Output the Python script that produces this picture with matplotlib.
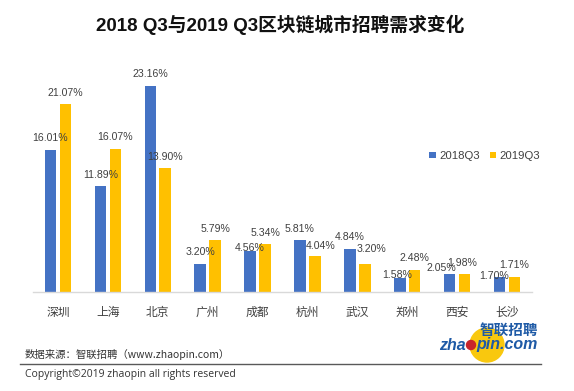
import numpy as np
import matplotlib
matplotlib.use("Agg")
import matplotlib.pyplot as plt
from matplotlib.patches import Ellipse
from matplotlib.lines import Line2D

# data
cities = ["深圳", "上海", "北京", "广州", "成都", "杭州", "武汉", "郑州", "西安", "长沙"]
q3_2018 = [16.01, 11.89, 23.16, 3.20, 4.56, 5.81, 4.84, 1.58, 2.05, 1.70]
q3_2019 = [21.07, 16.07, 13.90, 5.79, 5.34, 4.04, 3.20, 2.48, 1.98, 1.71]
series = ["2018Q3", "2019Q3"]

# label nudges (pixels) so they sit like the original
nudge_2018 = [(0, 0), (0, 0), (0, 0), (0, 0), (0, -8), (0, 0), (0, 0), (-3, -9), (-8, -6), (-5, -11)]
nudge_2019 = [(0, 0), (0, 0), (0, 0), (0, 0), (0, 0), (6, -1), (7, 3), (0, 0), (-2, 0), (0, 0)]

BLUE = "#4472C4"
GOLD = "#FFC000"
LATIN_CJK = ["Liberation Sans", "Noto Sans CJK SC", "DejaVu Sans"]
CJK = ["Noto Sans CJK SC", "DejaVu Sans"]

W, H = 574, 391
fig = plt.figure(figsize=(W / 100, H / 100), dpi=100)
ax = fig.add_axes([33 / W, 1 - 292 / H, 499 / W, 222.5 / H])

x = np.arange(len(cities))
bw = 0.23
off = 0.15
b1 = ax.bar(x - off, q3_2018, bw, color=BLUE, label=series[0])
b2 = ax.bar(x + off, q3_2019, bw, color=GOLD, label=series[1])

for bars, vals, nud in ((b1, q3_2018, nudge_2018), (b2, q3_2019, nudge_2019)):
    for r, v, (dx, dy) in zip(bars, vals, nud):
        ax.annotate(f"{v:.2f}%", (r.get_x() + r.get_width() / 2, v),
                    xytext=(dx, 11.5 + dy), textcoords="offset pixels",
                    ha="center", va="center", fontsize=7.6,
                    family="Liberation Sans", color="#404040")

ax.set_xlim(-0.5, len(cities) - 0.5)
ax.set_ylim(0, 25)
ax.set_xticks(x)
ax.set_xticklabels(cities, family=CJK, fontsize=8.5, color="#404040")
ax.tick_params(axis="x", length=0, pad=10)
ax.set_yticks([])
for s in ("top", "right", "left"):
    ax.spines[s].set_visible(False)
ax.spines["bottom"].set_color("#d9d9d9")
ax.spines["bottom"].set_linewidth(1)

ax.legend(loc="center left", bbox_to_anchor=(419 / W, 1 - 156 / H), bbox_transform=fig.transFigure,
          ncol=2, frameon=False, handlelength=0.55, handleheight=0.55, handletextpad=0.3,
          columnspacing=0.9, prop={"family": "Liberation Sans", "size": 8.2}, labelcolor="#404040")

fig.text(280 / W, 1 - 25 / H, "2018 Q3与2019 Q3区块链城市招聘需求变化", ha="center", va="center",
         fontsize=13.5, fontweight="bold", family=LATIN_CJK, color="#111111")

# footer
fig.text(25 / W, 1 - 355 / H, "数据来源：智联招聘（www.zhaopin.com）", ha="left", va="center",
         fontsize=7.5, family=CJK, color="#333333")
fig.add_artist(Line2D([20 / W, 541 / W], [1 - 364 / H, 1 - 364 / H], color="#595959", lw=1))
fig.text(25 / W, 1 - 375 / H, "Copyright©2019 zhaopin all rights reserved", ha="left", va="center",
         fontsize=7.5, family=["Open Sans", "DejaVu Sans"], color="#333333")

# logo
fig.add_artist(Ellipse((487 / W, 1 - 345 / H), 34 / W, 34 / H, color="#F9C80E", zorder=1))
fig.add_artist(Ellipse((471 / W, 1 - 345 / H), 9 / W, 9 / H, color="#C8242B", zorder=3))
fig.text(509 / W, 1 - 330 / H, "智联招聘", ha="center", va="center", fontsize=10.5,
         fontweight="bold", family=CJK, color="#1E5AA6", zorder=4)
fig.text(466 / W, 1 - 345 / H, "zha", ha="right", va="center", fontsize=11.5,
         fontweight="bold", style="italic", family="Liberation Sans", color="#1E5AA6", zorder=4)
fig.text(476 / W, 1 - 345 / H, "pin.com", ha="left", va="center", fontsize=11.5,
         fontweight="bold", style="italic", family="Liberation Sans", color="#1E5AA6", zorder=4)

fig.savefig("out.png", dpi=100)
